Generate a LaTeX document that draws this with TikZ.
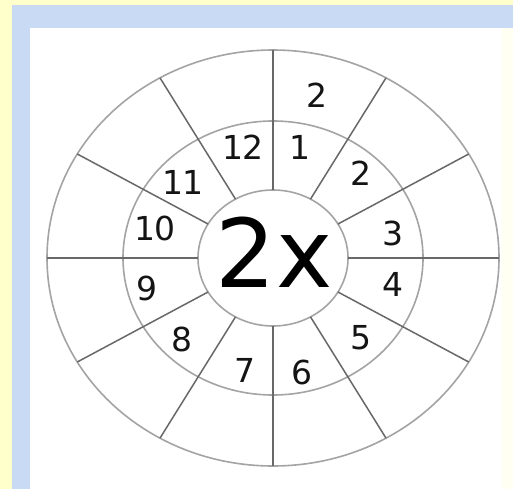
\documentclass[tikz,border=0pt]{standalone}
\usepackage{fontspec}
\setmainfont{DejaVu Sans}
\usetikzlibrary{calc}
\definecolor{bgyellow}{HTML}{FFFFCC}
\definecolor{bgblue}{HTML}{C8DAF4}
\definecolor{paleyel}{HTML}{FFFFF2}
\definecolor{ringgray}{HTML}{A4A4A4}
\definecolor{spokegray}{HTML}{686868}
\begin{document}
\begin{tikzpicture}[x=1pt,y=-1pt,
  ring/.style={draw=ringgray,line width=1.6pt},
  spoke/.style={draw=spokegray,line width=1.5pt},
  axisspoke/.style={draw=spokegray,line width=2pt},
  num/.style={font=\fontsize{33}{33}\selectfont,text=black!92,inner sep=0pt},
  big/.style={font=\fontsize{95}{95}\selectfont,text=black,inner sep=0pt}]
\useasboundingbox (0,0) rectangle (513,489);
\fill[bgyellow] (0,0) rectangle (513,489);
\fill[bgblue] (12,5) rectangle (513,489);
\fill[white] (30,28) rectangle (513,489);
\fill[paleyel] (502,28) rectangle (513,489);
\coordinate (c) at (273,258);
% ellipses
\draw[ring] (c) ellipse [x radius=226, y radius=208];
\draw[ring] (c) ellipse [x radius=150, y radius=137];
\draw[ring] (c) ellipse [x radius=75, y radius=68];
% spokes
\foreach \a in {30,60,120,150,210,240,300,330}{
  \draw[spoke] ($(c)+({75*cos(\a)},{-68*sin(\a)})$) -- ($(c)+({226*cos(\a)},{-208*sin(\a)})$);
}
\foreach \a in {0,90,180,270}{
  \draw[axisspoke] ($(c)+({75*cos(\a)},{-68*sin(\a)})$) -- ($(c)+({226*cos(\a)},{-208*sin(\a)})$);
}
% texts
\node[big] (t2x) at (274,252) {2x};
\node[num] (n1) at (300,147) {1};
\node[num] (n2) at (361,173) {2};
\node[num] (n3) at (393,233) {3};
\node[num] (n4) at (393,284) {4};
\node[num] (n5) at (361,338) {5};
\node[num] (n6) at (302,372) {6};
\node[num] (n7) at (245,370) {7};
\node[num] (n8) at (182,339) {8};
\node[num] (n9) at (147,288) {9};
\node[num] (n10) at (155,228) {10};
\node[num] (n11) at (183,182) {11};
\node[num] (n12) at (243,147) {12};
\node[num] (a1) at (317,95) {2};
\end{tikzpicture}
\end{document}
